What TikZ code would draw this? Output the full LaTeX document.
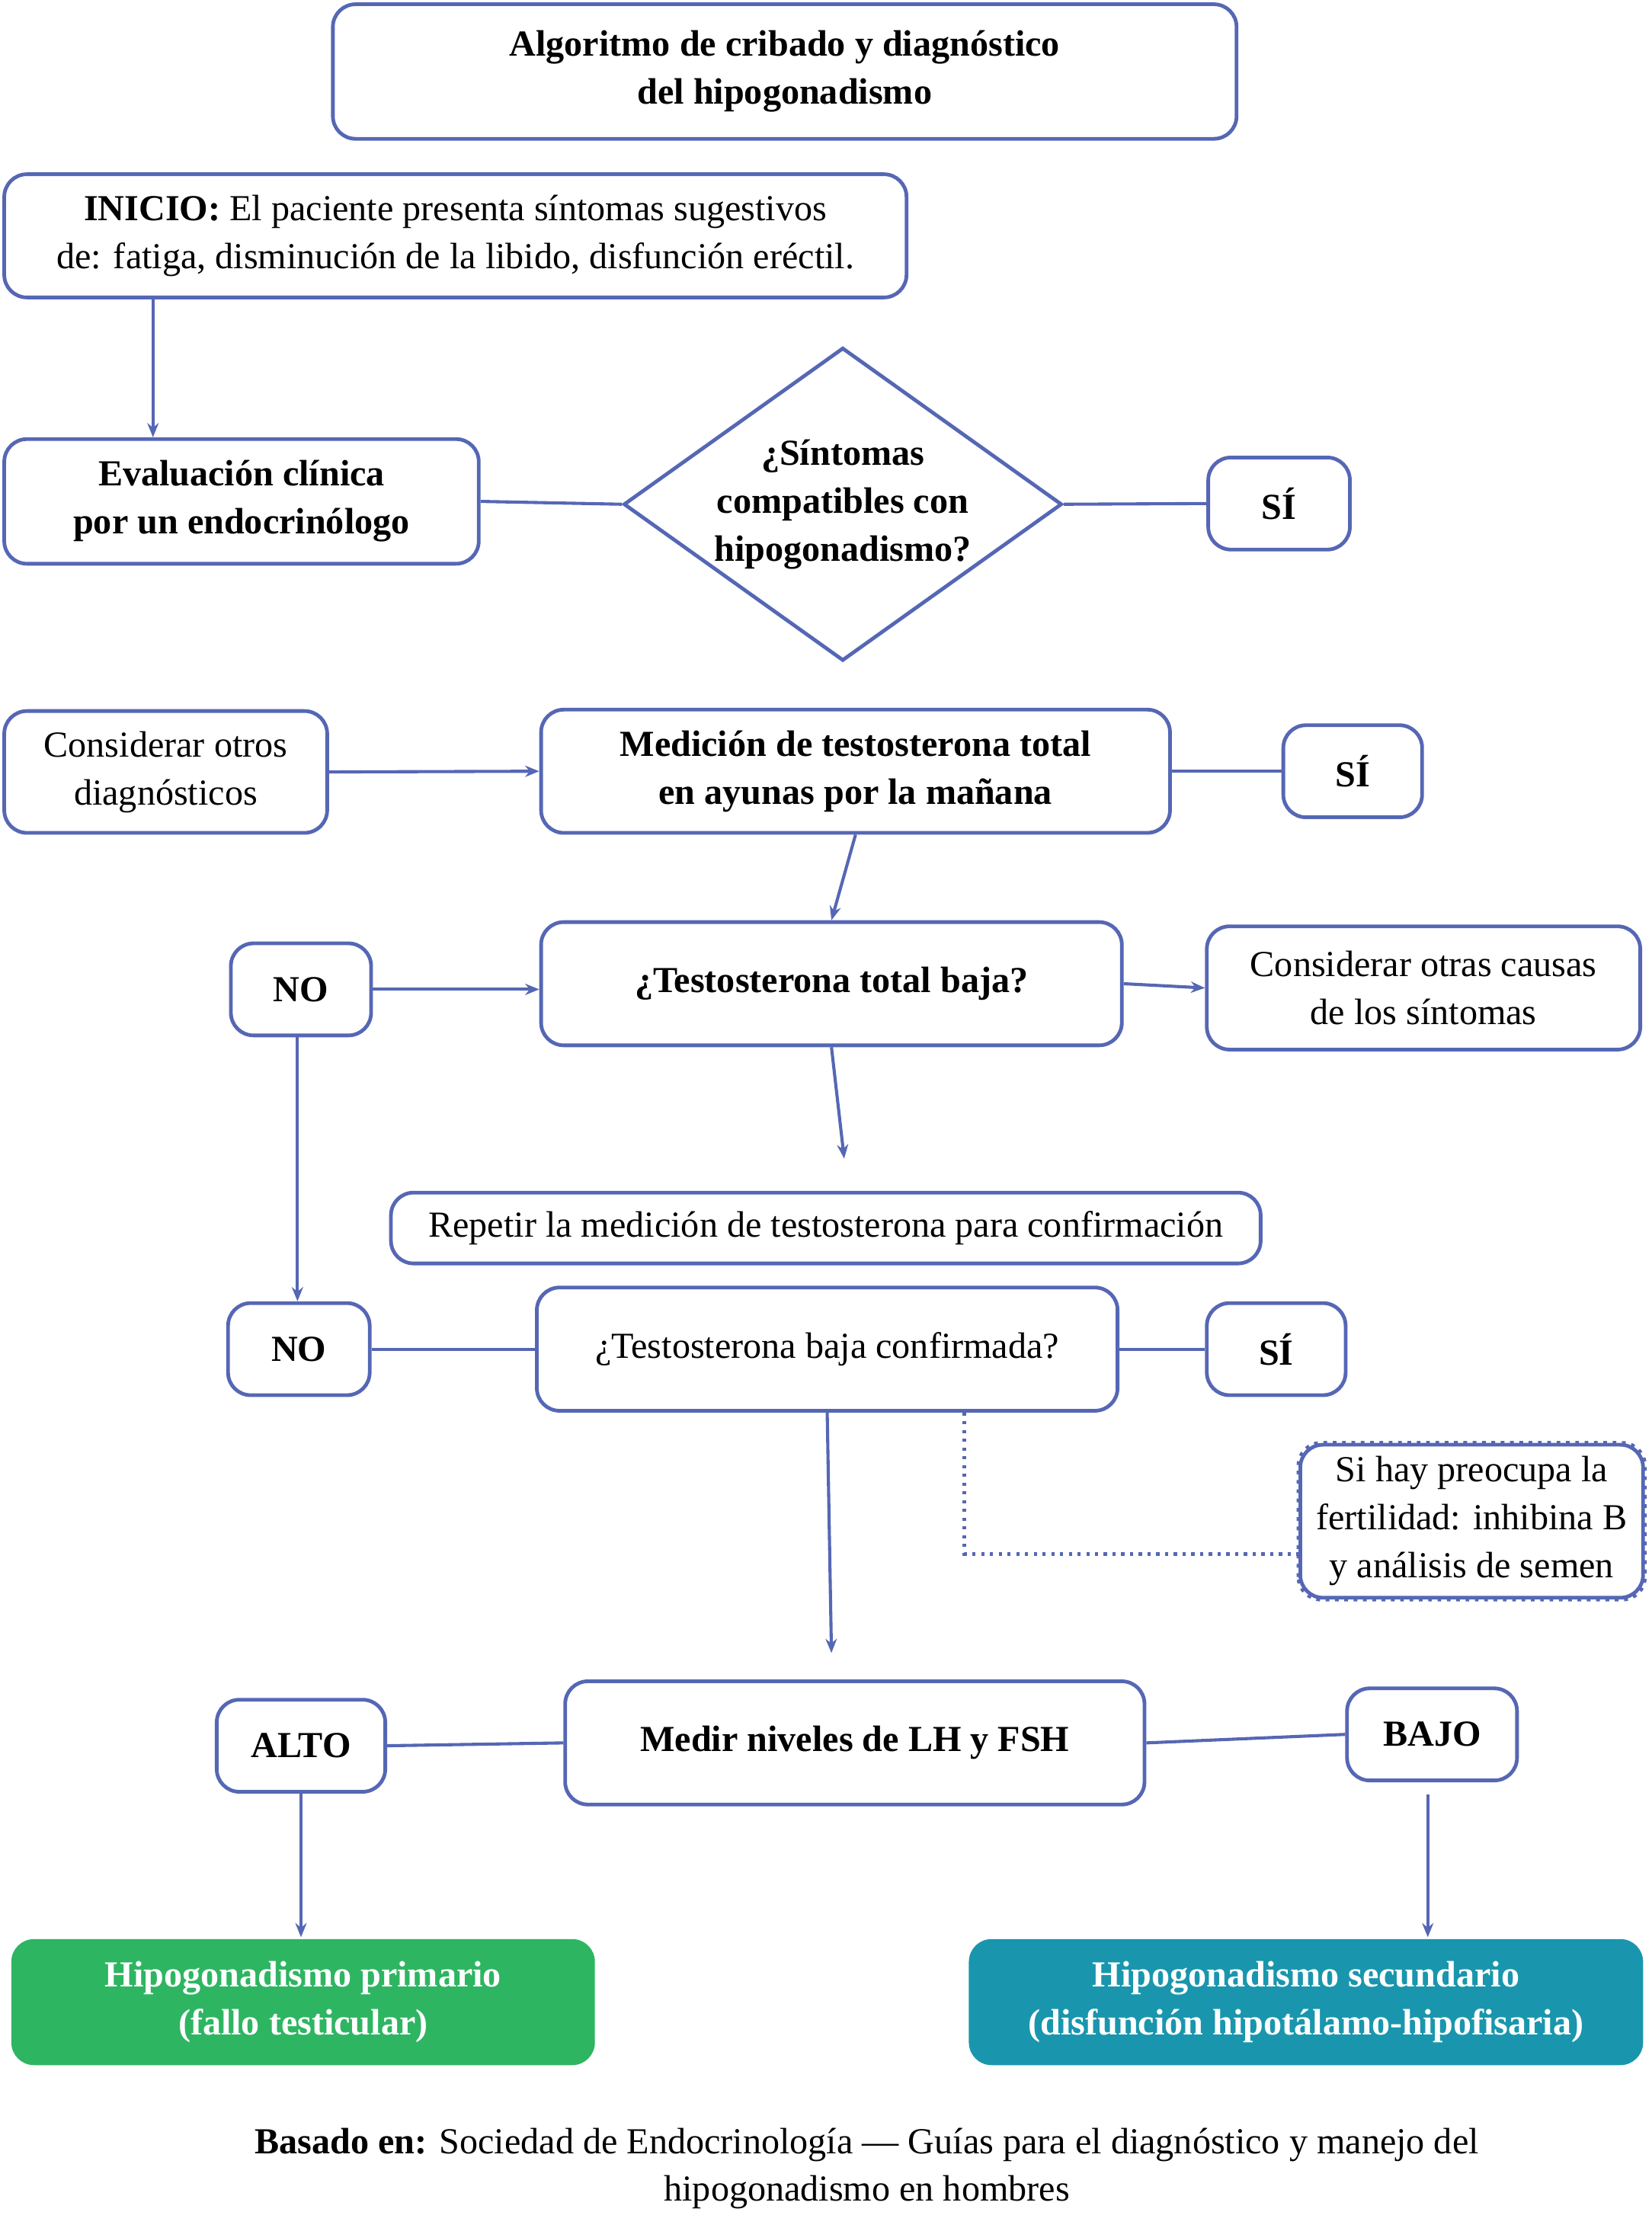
\documentclass[tikz,border=0pt]{standalone}
\usepackage{fontspec}
\setmainfont{Liberation Serif}
\usetikzlibrary{shapes.geometric,arrows.meta}
\definecolor{ln}{HTML}{5567B4}
\definecolor{grn}{HTML}{2EB562}
\definecolor{teal}{HTML}{1996AD}
\begin{document}
\begin{tikzpicture}[x=0.5bp,y=-0.5bp,
 box/.style={draw=ln,line width=1.3bp,rounded corners=8bp,align=center,inner sep=0pt,font=\fontsize{13}{17}\selectfont},
 bb/.style={box,font=\fontsize{13}{17}\selectfont\bfseries},
 ed/.style={draw=ln,line width=1.1bp},
 ar/.style={ed,-{Stealth[length=5bp,width=4bp]}}]
\useasboundingbox (0,0) rectangle (1166,1573);
\newcommand\bx[6]{\node[#1,minimum width=(#4-#2)*0.5bp,minimum height=(#5-#3)*0.5bp] (#6) at ({(#2+#4)/2},{(#3+#5)/2})}
\bx{bb}{235}{3}{873}{98}{title}{Algoritmo de cribado y diagnóstico\\del hipogonadismo};
\bx{box}{3}{123}{640}{210}{ini}{\textbf{INICIO:} El paciente presenta síntomas sugestivos\\de: fatiga, disminución de la libido, disfunción eréctil.};
\bx{bb}{3}{310}{338}{398}{eva}{Evaluación clínica\\por un endocrinólogo};
\node[draw=ln,line width=1.3bp,diamond,aspect=1.4,minimum width=145bp,minimum height=106bp,inner sep=0pt,align=center,font=\fontsize{13}{17}\selectfont\bfseries] (dia) at (595,356) {¿Síntomas\\compatibles con\\hipogonadismo?};
\bx{bb}{853}{323}{953}{388}{si1}{SÍ};
\bx{box}{3}{502}{231}{588}{otr}{Considerar otros\\diagnósticos};
\bx{bb}{382}{501}{826}{588}{med}{Medición de testosterona total\\en ayunas por la mañana};
\bx{bb}{906}{512}{1004}{577}{si2}{SÍ};
\bx{bb}{382}{651}{792}{738}{baja}{¿Testosterona total baja?};
\bx{bb}{163}{666}{262}{731}{no1}{NO};
\bx{box}{852}{654}{1158}{741}{cau}{Considerar otras causas\\de los síntomas};
\bx{box}{276}{842}{890}{892}{rep}{Repetir la medición de testosterona para confirmación};
\bx{box}{379}{909}{789}{996}{conf}{¿Testosterona baja confirmada?};
\bx{bb}{161}{920}{261}{985}{no2}{NO};
\bx{bb}{852}{920}{950}{985}{si3}{SÍ};
\bx{box}{918}{1020}{1160}{1128}{fer}{Si hay preocupa la\\fertilidad: inhibina B\\y análisis de semen};
\node[dotted] at (fer) {};
\bx{bb}{399}{1187}{808}{1274}{lh}{Medir niveles de LH y FSH};
\bx{bb}{153}{1200}{272}{1265}{alto}{ALTO};
\bx{bb}{951}{1192}{1071}{1257}{bajo}{BAJO};
\node[bb,draw=none,fill=grn,text=white,minimum width=206bp,minimum height=44.5bp] (pri) at (214,1413.5) {Hipogonadismo primario\\(fallo testicular)};
\node[bb,draw=none,fill=teal,text=white,minimum width=238bp,minimum height=44.5bp] (sec) at (922,1413.5) {Hipogonadismo secundario\\(disfunción hipotálamo-hipofisaria)};
\node[align=center,font=\fontsize{13}{17}\selectfont] (ft) at (612,1531) {\textbf{Basado en:} Sociedad de Endocrinología — Guías para el diagnóstico y manejo del\\hipogonadismo en hombres};
\coordinate (e1) at (596,818);
\coordinate (e2) at (587,1167);
\coordinate (d1) at (681,1097);
\draw[ar] (ini.south -| 108,0) -- (eva.north -| 108,0);
\draw[ed] (eva.east) -- (dia.west);
\draw[ed] (dia.east) -- (si1.west);
\draw[ar] (otr.east) -- (med.west);
\draw[ed] (med.east) -- (si2.west);
\draw[ar] (med.south) -- (baja.north);
\draw[ar] (no1.east) -- (no1.east -| baja.west);
\draw[ar] (baja.east) -- (cau.west);
\draw[ar] (baja.south) -- (e1);
\draw[ar] (no1.south -| 210,0) -- (no2.north -| 210,0);
\draw[ed] (no2.east) -- (conf.west);
\draw[ed] (conf.east) -- (si3.west);
\draw[ar] (conf.south -| 584,0) -- (e2);
\draw[ed,dotted,line width=1.3bp] (conf.south -| d1) -- (d1) -- (fer.west |- d1);
\draw[draw=ln,line width=1.3bp,dotted,rounded corners=8bp] (fer.south west) rectangle (fer.north east);
\draw[ed] (lh.west) -- (alto.east);
\draw[ed] (lh.east) -- (bajo.west);
\draw[ar] (alto.south) -- (pri.north -| alto.south);
\draw[ar] (1008,1267) -- (sec.north -| 1008,0);
\end{tikzpicture}
\end{document}
